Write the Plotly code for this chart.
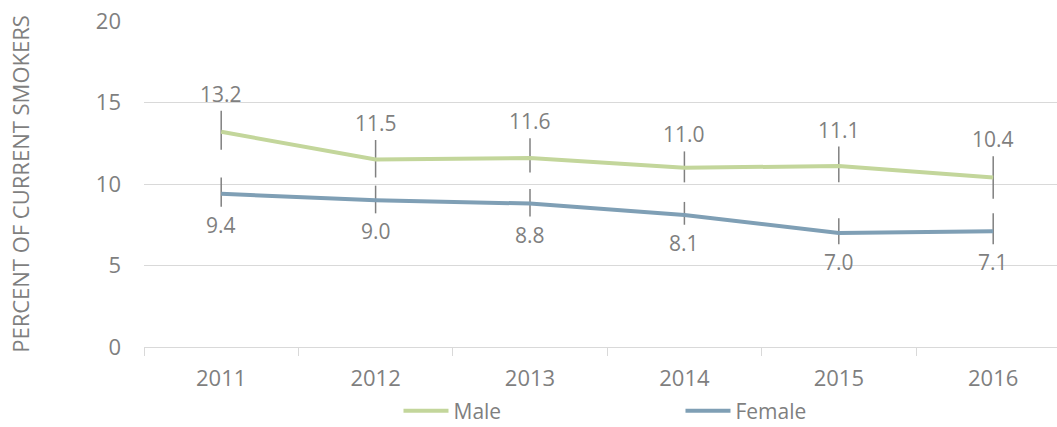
import plotly.graph_objects as go

years = ["2011", "2012", "2013", "2014", "2015", "2016"]
male = [13.2, 11.5, 11.6, 11.0, 11.1, 10.4]
male_plus = [1.3, 1.2, 1.2, 1.0, 1.2, 1.3]
male_minus = [1.1, 1.1, 0.9, 0.9, 1.0, 1.3]
female = [9.4, 9.0, 8.8, 8.1, 7.0, 7.1]
female_plus = [1.0, 0.9, 0.9, 0.8, 0.9, 1.1]
female_minus = [0.8, 0.8, 0.8, 0.6, 0.7, 0.8]
y_ticks = [0, 5, 10, 15, 20]

GRAY = "#7f7f7f"
FONT = "Open Sans"

fig = go.Figure()
fig.add_trace(go.Scatter(
    x=years, y=male, name="Male", mode="lines",
    line=dict(color="#c3d69b", width=4),
    error_y=dict(type="data", symmetric=False, array=male_plus, arrayminus=male_minus,
                 color="#808080", thickness=1.5, width=0),
))
fig.add_trace(go.Scatter(
    x=years, y=female, name="Female", mode="lines",
    line=dict(color="#7f9fb5", width=4),
    error_y=dict(type="data", symmetric=False, array=female_plus, arrayminus=female_minus,
                 color="#808080", thickness=1.5, width=0),
))

for i, (v, p) in enumerate(zip(male, male_plus)):
    fig.add_annotation(x=i, y=v + p, xref="x", yref="y", text=f"{v:.1f}", showarrow=False,
                       yanchor="middle", yshift=17, font=dict(size=21, color=GRAY, family=FONT))
for i, (v, m) in enumerate(zip(female, female_minus)):
    fig.add_annotation(x=i, y=v - m, xref="x", yref="y", text=f"{v:.1f}", showarrow=False,
                       yanchor="middle", yshift=-18, font=dict(size=21, color=GRAY, family=FONT))

fig.update_layout(
    width=1057, height=427,
    margin=dict(l=144, r=0, t=21, b=80, autoexpand=False),
    plot_bgcolor="white", paper_bgcolor="white",
    font=dict(family=FONT, color=GRAY, size=20),
    showlegend=True,
    legend=dict(orientation="h", xref="container", yref="container",
                x=0.377, xanchor="left", y=1 - 411 / 427, yanchor="middle",
                font=dict(size=21, color=GRAY, family=FONT), entrywidth=222,
                itemwidth=45),
    xaxis=dict(type="category", range=[-0.5, -0.5 + 913 / 154.4], automargin=False,
               showgrid=False, showline=True, linecolor="#d9d9d9", linewidth=1,
               ticks="outside", tickson="boundaries", ticklen=8, tickcolor="#d9d9d9",
               tickfont=dict(size=22, color=GRAY, family=FONT), ticklabelstandoff=12),
    yaxis=dict(range=[0, 20], tickvals=y_ticks, showgrid=True, gridcolor="#d9d9d9",
               gridwidth=1, zeroline=False, showline=False, automargin=False,
               tickfont=dict(size=22, color=GRAY, family=FONT), ticklabelstandoff=22,
               title=dict(text="PERCENT OF CURRENT SMOKERS", standoff=60,
                          font=dict(size=22, color=GRAY, family=FONT))),
)

fig.write_html(
    "out.html",
    config={"displayModeBar": False},
    post_script="document.body.style.margin='0';document.body.style.overflow='hidden';",
)
